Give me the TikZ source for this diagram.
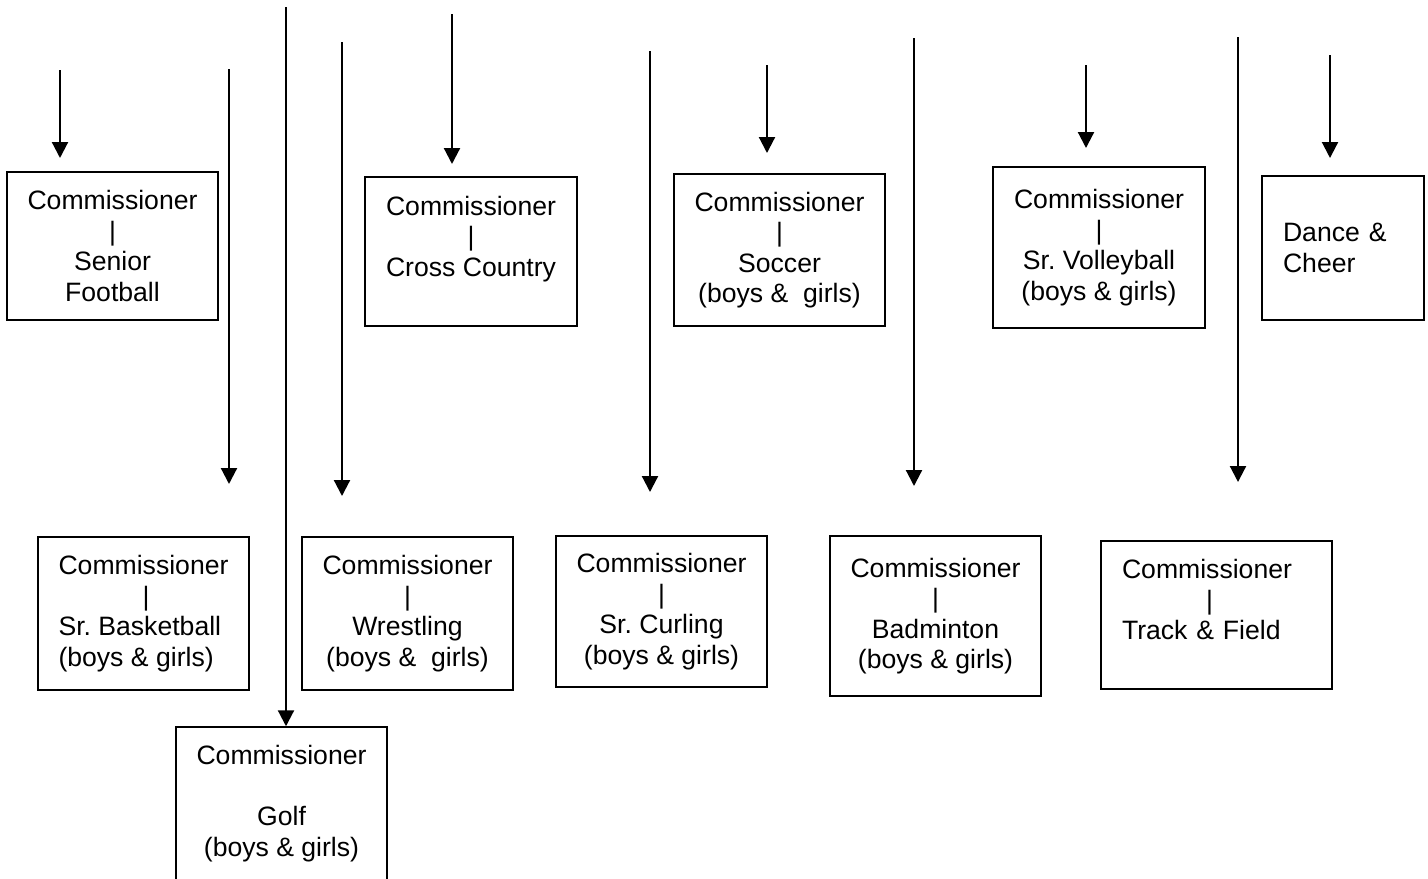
\documentclass[tikz,border=0pt]{standalone}
\usepackage{fontspec}
\setmainfont{Liberation Sans}
\usetikzlibrary{arrows.meta}
\frenchspacing

\tikzset{
  sportbox/.style={draw, rectangle, line width=0.75pt, inner sep=0pt, align=center,
    font=\fontsize{13.3}{15.25}\selectfont},
  feed/.style={-{Triangle[width=8pt,length=8pt]}, line width=1.1pt}
}

\begin{document}
\begin{tikzpicture}[x=0.5pt, y=-0.5pt]
		\clip (0,0) rectangle (1428,878);
		% top row
		\node (football) [sportbox, minimum width=105.5pt, minimum height=74pt] at (112.5,246) {Commissioner\\|\\Senior\\Football};
		\node (cross) [sportbox, minimum width=106pt, minimum height=74.5pt] at (471,251.5) {Commissioner\\|\\Cross Country\\\mbox{}};
		\node (soccer) [sportbox, minimum width=105.5pt, minimum height=76pt] at (779.5,250) {Commissioner\\|\\Soccer\\(boys \&~ girls)};
		\node (volley) [sportbox, minimum width=106pt, minimum height=80.5pt] at (1099,247.5) {Commissioner\\|\\Sr. Volleyball\\(boys \& girls)};
		\node (dance) [sportbox, align=left, text width=60pt, minimum width=81pt, minimum height=72pt] at (1343,248) {Dance \&\\Cheer};
		% bottom row
		\node (basketball) [sportbox, align=left, minimum width=105.5pt, minimum height=76.5pt] at (143.5,613.5) {Commissioner\\\hphantom{Commi}|\\Sr. Basketball\\(boys \& girls)};
		\node (wrestling) [sportbox, minimum width=105.5pt, minimum height=76.5pt] at (407.5,613.5) {Commissioner\\|\\Wrestling\\(boys \&~ girls)};
		\node (curling) [sportbox, minimum width=105.5pt, minimum height=75.5pt] at (661.5,611.5) {Commissioner\\|\\Sr. Curling\\(boys \& girls)};
		\node (badminton) [sportbox, minimum width=105.5pt, minimum height=80pt] at (935.5,616) {Commissioner\\|\\Badminton\\(boys \& girls)};
		\node (track) [sportbox, align=left, text width=94.5pt, minimum width=115.5pt, minimum height=74pt] at (1216.5,615) {Commissioner\\\hphantom{Commi}|\\Track \& Field\\\mbox{}};
		\node (golf) [sportbox, minimum width=105.5pt, minimum height=76.5pt] at (281.5,803.5) {Commissioner\\\mbox{}\\Golf\\(boys \& girls)};
		% arrows
		\coordinate (s1) at (60,70);    \coordinate (e1) at (60,158);
		\coordinate (s2) at (229,69);   \coordinate (e2) at (229,484);
		\coordinate (s3) at (286,7);
		\coordinate (s4) at (342,42);   \coordinate (e4) at (342,496);
		\coordinate (s5) at (452,14);   \coordinate (e5) at (452,164);
		\coordinate (s6) at (650,51);   \coordinate (e6) at (650,492);
		\coordinate (s7) at (767,65);   \coordinate (e7) at (767,153);
		\coordinate (s8) at (914,38);   \coordinate (e8) at (914,486);
		\coordinate (s9) at (1086,65);  \coordinate (e9) at (1086,148);
		\coordinate (s10) at (1238,37); \coordinate (e10) at (1238,482);
		\coordinate (s11) at (1330,55); \coordinate (e11) at (1330,158);
		\draw[feed] (s1) -- (e1);
		\draw[feed] (s2) -- (e2);
		\draw[feed] (s3) -- (s3 |- golf.north);
		\draw[feed] (s4) -- (e4);
		\draw[feed] (s5) -- (e5);
		\draw[feed] (s6) -- (e6);
		\draw[feed] (s7) -- (e7);
		\draw[feed] (s8) -- (e8);
		\draw[feed] (s9) -- (e9);
		\draw[feed] (s10) -- (e10);
		\draw[feed] (s11) -- (e11);
\end{tikzpicture}
\end{document}
